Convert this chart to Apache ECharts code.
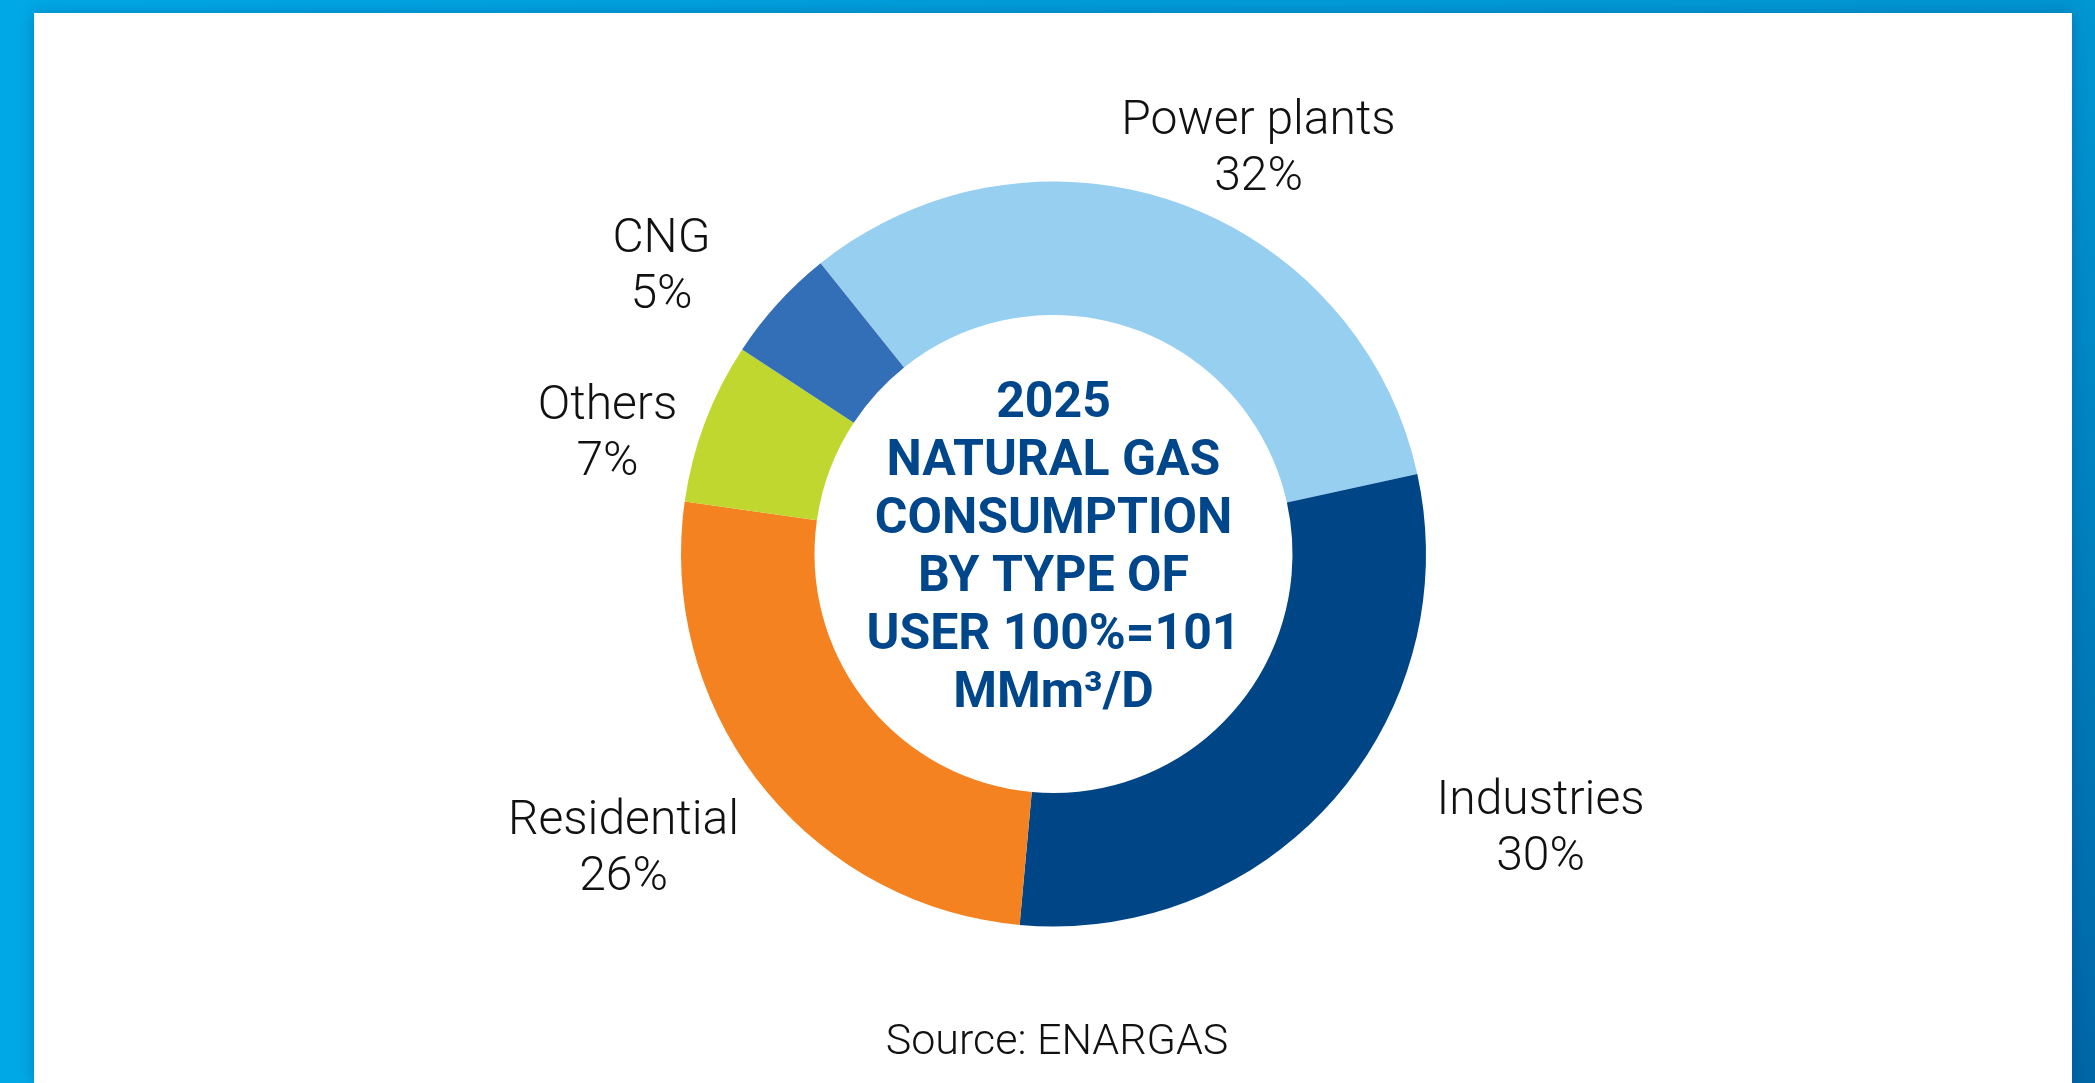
<!DOCTYPE html>
<html>
<head>
<meta charset="utf-8">
<script src="https://cdn.jsdelivr.net/npm/echarts@6/dist/echarts.min.js"></script>
<style>
  html, body { margin: 0; padding: 0; width: 2095px; height: 1083px; overflow: hidden; }
  #frame { position: absolute; left: 0; top: 0; width: 2095px; height: 1083px;
    background: linear-gradient(to right, #00a9e6 0%, #009fdc 40%, #0096d2 100%); }
  #rightbar { position: absolute; left: 2072px; top: 0; width: 23px; height: 1083px;
    background: linear-gradient(to bottom, #0097d3 0%, #0082c0 45%, #0066a6 100%); }
  #panel { position: absolute; left: 34px; top: 13px; width: 2038px; height: 1070px; background: #ffffff;
    box-shadow: 0 0 14px rgba(0, 60, 120, 0.35); }
  #chart { position: absolute; left: 0; top: 0; width: 2095px; height: 1083px; }
</style>
</head>
<body>
<div id="frame"></div>
<div id="rightbar"></div>
<div id="panel"></div>
<div id="chart"></div>
<script>
// ---- data ----
const categories = ['Power plants', 'Industries', 'Residential', 'Others', 'CNG'];
const shares = [32.3, 29.9, 25.8, 7.0, 5.0];
const colors = ['#97cff0', '#004687', '#f58220', '#c0d72f', '#336fb7'];
const centerTitle = ['2025', 'NATURAL GAS', 'CONSUMPTION', 'BY TYPE OF', 'USER 100%=101', 'MMm\u00b3/D'];
const sourceText = 'Source: ENARGAS';

// ---- layout (not data) ----
const CX = 1053.5, CY = 554;
const labelOffsets = [[205, -404], [487, 276], [-430, 296], [-446, -119], [-392, -286]];

const chart = echarts.init(document.getElementById('chart'), null, { renderer: 'canvas' });
chart.setOption({
  backgroundColor: 'transparent',
  animation: false,
  series: [{
    type: 'pie',
    center: [CX, CY],
    radius: [239, 372.5],
    startAngle: 128.7,
    clockwise: true,
    avoidLabelOverlap: false,
    silent: true,
    itemStyle: { borderWidth: 0 },
    labelLine: { show: false },
    label: {
      show: true,
      position: 'outside',
      formatter: p => '{t|' + p.name + '}\n{t|' + Math.round(p.percent) + '%}',
      rich: {
        t: { fontFamily: 'Roboto', fontWeight: 300, fontSize: 48, lineHeight: 56, color: '#111111', align: 'center' }
      }
    },
    labelLayout: function (params) {
      const o = labelOffsets[params.dataIndex];
      return { x: CX + o[0], y: CY + o[1], align: 'center', verticalAlign: 'middle' };
    },
    data: categories.map((c, i) => ({ name: c, value: shares[i], itemStyle: { color: colors[i] } }))
  }],
  graphic: [
    {
      type: 'text', x: CX, y: 549,
      style: {
        text: centerTitle.join('\n'),
        fontFamily: 'Roboto', fontWeight: 'bold', fontSize: 50, lineHeight: 58,
        fill: '#00468b', align: 'center', verticalAlign: 'middle'
      }
    },
    {
      type: 'text', x: 1057, y: 1043,
      style: {
        text: sourceText,
        fontFamily: 'Roboto', fontWeight: 300, fontSize: 43,
        fill: '#111111', align: 'center', verticalAlign: 'middle'
      }
    }
  ]
});
</script>
</body>
</html>
